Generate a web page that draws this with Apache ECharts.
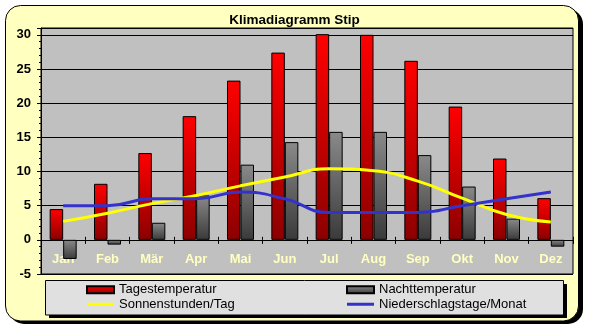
<!DOCTYPE html>
<html>
<head>
<meta charset="utf-8">
<script src="https://cdn.jsdelivr.net/npm/echarts@6/dist/echarts.min.js"></script>
<style>
html,body{margin:0;padding:0;background:#fff;}
#c{width:589px;height:330px;}
</style>
</head>
<body>
<div id="c"></div>
<script>
var months = ['Jan','Feb','Mär','Apr','Mai','Jun','Jul','Aug','Sep','Okt','Nov','Dez'];
var tagesTemp = [4.5, 8.2, 12.7, 18.1, 23.3, 27.4, 30.1, 30.0, 26.2, 19.5, 11.9, 6.1];
var nachtTemp = [-2.8, -0.7, 2.5, 6.5, 11.0, 14.3, 15.8, 15.8, 12.4, 7.8, 3.1, -1.0];
var sonnenstunden = [2.7, 3.9, 5.3, 6.5, 7.9, 9.2, 10.4, 10.1, 8.6, 6.1, 3.7, 2.6];
var niederschlag = [5, 5, 6, 6, 7, 6, 4, 4, 4, 5, 6, 7];
var yTicks = [-5, 0, 5, 10, 15, 20, 25, 30];
var yMin = -5, yMax = 31;

var chart = echarts.init(document.getElementById('c'));
var font = 'Liberation Sans, Arial, sans-serif';
var gridTop = 28, gridBottom = 56, chartH = 330;
var plotH = chartH - gridTop - gridBottom;
// distance of the zero line above the grid bottom (for the month label row)
var zeroOffset = plotH * (0 - yMin) / (yMax - yMin);

var redGrad = new echarts.graphic.LinearGradient(0,0,0,1,[{offset:0,color:'#FF0000'},{offset:1,color:'#8C0000'}]);
var greyGrad = new echarts.graphic.LinearGradient(0,0,0,1,[{offset:0,color:'#8A8A8A'},{offset:1,color:'#3A3A3A'}]);
var lineIcon = 'path://M0,0M0,2H27V5H0ZM27,7';

chart.setOption({
  animation: false,
  backgroundColor: '#FFFFFF',
  graphic: [
    {type:'rect', z:-10, shape:{x:9,y:9,width:574,height:315,r:15}, style:{fill:'#000'}},
    {type:'rect', z:-9, shape:{x:5.5,y:5.5,width:573,height:315.5,r:15}, style:{fill:'#FFFFC0',stroke:'#000',lineWidth:1}},
    {type:'rect', z:-8, shape:{x:49,y:284,width:518,height:34}, style:{fill:'#000'}},
    {type:'rect', z:-7, shape:{x:45.5,y:280.5,width:518,height:34.5}, style:{fill:'#E0E0E0',stroke:'#000',lineWidth:1}}
  ],
  title: {
    text: 'Klimadiagramm Stip',
    left: 'center', top: 8,
    textStyle: {fontFamily: font, fontWeight: 'bold', fontSize: 13.5, color: '#000'}
  },
  grid: {
    left: 41, top: gridTop, right: 16, bottom: gridBottom,
    show: true, backgroundColor: '#C0C0C0', borderColor: '#000', borderWidth: 1
  },
  legend: [
    {
      left: 81, top: 277.5, orient: 'vertical', itemWidth: 27, itemHeight: 7, itemGap: 0,
      textStyle: {fontFamily: font, fontSize: 13, color: '#000', lineHeight: 14.5},
      data: [
        {name:'Tagestemperatur', icon:'rect'},
        {name:'Sonnenstunden/Tag', icon: lineIcon, itemStyle: {color: '#FFFF00', borderWidth: 0}}
      ]
    },
    {
      left: 341, top: 277.5, orient: 'vertical', itemWidth: 27, itemHeight: 7, itemGap: 0,
      textStyle: {fontFamily: font, fontSize: 13, color: '#000', lineHeight: 14.5},
      data: [
        {name:'Nachttemperatur', icon:'rect'},
        {name:'Niederschlagstage/Monat', icon: lineIcon, itemStyle: {color: '#3333CC', borderWidth: 0}}
      ]
    }
  ],
  xAxis: [
    {
      type: 'category', data: months, position: 'bottom',
      axisLine: {onZero: true, lineStyle: {color: '#000', width: 1}},
      axisTick: {show: true, length: 4, lineStyle: {color: '#000'}},
      axisLabel: {show: false}
    },
    {
      type: 'category', data: months, position: 'top',
      axisLine: {show: false, onZero: true},
      axisTick: {show: true, length: 3, lineStyle: {color: '#000'}},
      axisLabel: {show: false}
    },
    {
      type: 'category', data: months, position: 'bottom', offset: -zeroOffset,
      axisLine: {show: false, onZero: false},
      axisTick: {show: false},
      axisLabel: {margin: 13, color: '#FFFFC0', fontFamily: font, fontWeight: 'bold', fontSize: 13}
    }
  ],
  yAxis: [
    {
      type: 'value', min: yMin, max: yMax, interval: 5, position: 'left',
      axisLine: {show: true, lineStyle: {color: '#000'}},
      axisTick: {show: true, length: 4, lineStyle: {color: '#000'}},
      splitLine: {show: true, lineStyle: {color: '#000', width: 1}},
      axisLabel: {
        margin: 10, color: '#000', fontFamily: font, fontWeight: 'bold', fontSize: 13,
        formatter: function (v) { return yTicks.indexOf(v) >= 0 ? String(v) : ''; }
      }
    },
    {
      type: 'value', min: yMin, max: yMax, interval: 1, position: 'left',
      axisLine: {show: false},
      axisTick: {show: true, length: 2, lineStyle: {color: '#000'}},
      splitLine: {show: false},
      axisLabel: {show: false}
    }
  ],
  series: [
    {
      name: 'Tagestemperatur', type: 'bar', data: tagesTemp,
      barWidth: 13.5, barGap: '0%',
      itemStyle: {color: redGrad, borderColor: '#000', borderWidth: 1}
    },
    {
      name: 'Nachttemperatur', type: 'bar', data: nachtTemp,
      barWidth: 13.5, barGap: '0%',
      itemStyle: {color: greyGrad, borderColor: '#000', borderWidth: 1}
    },
    {
      name: 'Sonnenstunden/Tag', type: 'line', data: sonnenstunden, smooth: true,
      symbol: 'none', z: 5,
      lineStyle: {color: '#FFFF00', width: 3},
      itemStyle: {color: '#FFFF00'}
    },
    {
      name: 'Niederschlagstage/Monat', type: 'line', data: niederschlag, smooth: true,
      symbol: 'none', z: 5,
      lineStyle: {color: '#3333CC', width: 3},
      itemStyle: {color: '#3333CC'}
    }
  ]
});
</script>
</body>
</html>
